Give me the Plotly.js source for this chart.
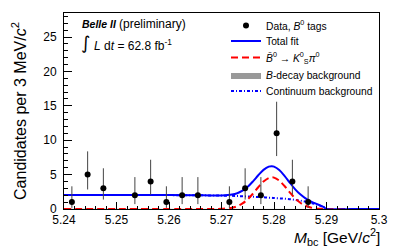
<!DOCTYPE html>
<html>
<head>
<meta charset="utf-8">
<script src="https://cdn.plot.ly/plotly-3.0.1.min.js"></script>
<style>html,body{margin:0;padding:0;background:#fff}#chart{width:399px;height:249px}</style>
</head>
<body>
<div id="chart"></div>
<script>
// Data points (bins with zero entries not drawn)
const binCenters = [5.2415, 5.2445, 5.2475, 5.2535, 5.2565, 5.2595, 5.2625, 5.2655, 5.2715, 5.2745, 5.2775, 5.2805, 5.2835, 5.2865];
const counts     = [1, 5, 3, 2, 4, 1, 2, 2, 1, 3, 2, 11, 4, 1];
const errHigh    = [2.3, 3.38, 2.92, 2.64, 3.16, 2.3, 2.64, 2.64, 2.3, 2.92, 2.64, 4.6, 3.16, 2.3];
const errLow     = [0.83, 2.16, 1.63, 1.29, 1.91, 0.83, 1.29, 1.29, 0.83, 1.63, 1.29, 3.3, 1.91, 0.83];

// Fit curves sampled in Mbc
const curveX    = [5.24, 5.25, 5.26, 5.265, 5.268, 5.27, 5.272, 5.273, 5.274, 5.275, 5.276, 5.277, 5.278, 5.279, 5.2796, 5.28, 5.281, 5.282, 5.283, 5.284, 5.285, 5.286, 5.287, 5.288, 5.289, 5.2895, 5.29, 5.295, 5.30];
const totalFit  = [2.05, 2.04, 2.02, 2.0, 1.97, 1.98, 2.10, 2.29, 2.66, 3.24, 4.02, 4.90, 5.69, 6.16, 6.22, 6.16, 5.67, 4.83, 3.84, 2.90, 2.13, 1.55, 1.12, 0.77, 0.45, 0.26, 0, 0, 0];
const signal    = [0, 0, 0, 0, 0.003, 0.027, 0.19, 0.41, 0.81, 1.42, 2.24, 3.16, 3.99, 4.51, 4.6, 4.56, 4.12, 3.34, 2.42, 1.57, 0.91, 0.47, 0.22, 0.09, 0.03, 0.01, 0, 0, 0];
const bDecayBkg = [0.02, 0.02, 0.02, 0.02, 0.02, 0.02, 0.02, 0.02, 0.02, 0.02, 0.02, 0.02, 0.02, 0.02, 0.02, 0.02, 0.02, 0.02, 0.02, 0.02, 0.02, 0.02, 0.02, 0.01, 0.01, 0, 0, 0, 0];
const continuum = [2.05, 2.04, 2.02, 2.0, 1.97, 1.95, 1.91, 1.88, 1.85, 1.82, 1.78, 1.74, 1.70, 1.65, 1.62, 1.60, 1.55, 1.49, 1.42, 1.33, 1.22, 1.08, 0.90, 0.68, 0.42, 0.25, 0, 0, 0];

const xTickVals = [5.24, 5.25, 5.26, 5.27, 5.28, 5.29, 5.3];
const xTickText = ['5.24', '5.25', '5.26', '5.27', '5.28', '5.29', '5.3'];
const yTickVals = [0, 5, 10, 15, 20, 25];

const FONT = 'Liberation Sans, Arial, Helvetica, sans-serif';

const traces = [
  {
    x: curveX, y: bDecayBkg, type: 'scatter', mode: 'lines',
    line: {color: '#999999', width: 0}, fill: 'tozeroy', fillcolor: '#999999',
    name: '<i>B</i>-decay background', legend: 'legend4'
  },
  {
    x: curveX, y: continuum, type: 'scatter', mode: 'lines', line: {shape: 'spline',
    color: '#0000ff', width: 2, dash: '3px,2px,1px,2px'},
    name: 'Continuum background', legend: 'legend5'
  },
  {
    x: curveX, y: signal, type: 'scatter', mode: 'lines', line: {shape: 'spline',
    color: '#ff0000', width: 2, dash: '7px,4px'},
    name: '<i>B\u0304</i><sup>0</sup> \u2192 <i>K</i><sup>0</sup><sub>S</sub><i>\u03c0</i><sup>0</sup>', legend: 'legend3'
  },
  {
    x: curveX, y: totalFit, type: 'scatter', mode: 'lines', line: {shape: 'spline',
    color: '#0000ff', width: 2},
    name: 'Total fit', legend: 'legend2'
  },
  {
    x: binCenters, y: counts, type: 'scatter', mode: 'markers',
    marker: {color: '#000000', size: 6},
    error_y: {type: 'data', symmetric: false, array: errHigh, arrayminus: errLow,
              color: '#444444', thickness: 1, width: 0},
    name: 'Data, <i>B</i><sup>0</sup> tags', legend: 'legend'
  }
];

function legendAt(yc) {
  return {
    x: (226 - 64) / 315, y: (209 - yc) / 197, xanchor: 'left', yanchor: 'middle',
    bgcolor: 'rgba(0,0,0,0)', borderwidth: 0,
    font: {family: FONT, size: 10.3, color: '#000'}, itemwidth: 30
  };
}

const layout = {
  width: 399, height: 249,
  margin: {l: 64, r: 20, t: 12, b: 40},
  paper_bgcolor: '#ffffff', plot_bgcolor: '#ffffff',
  font: {family: FONT, size: 12, color: '#000'},
  showlegend: true,
  legend: legendAt(25.5),
  legend2: legendAt(41),
  legend3: legendAt(57.5),
  legend4: legendAt(75),
  legend5: legendAt(91),
  xaxis: {
    range: [5.24, 5.30], tickmode: 'array', tickvals: xTickVals, ticktext: xTickText,
    ticks: 'inside', ticklen: 7, tickcolor: '#000', showgrid: false, zeroline: false,
    showline: true, linecolor: '#000', linewidth: 1, mirror: true,
    tickfont: {family: FONT, size: 12},
    minor: {dtick: 0.002, ticks: 'inside', ticklen: 3.5, tickcolor: '#000', showgrid: false}
  },
  yaxis: {
    range: [0, 28.5], tickmode: 'array', tickvals: yTickVals,
    ticks: 'inside', ticklen: 8, tickcolor: '#000', showgrid: false, zeroline: false,
    showline: true, linecolor: '#000', linewidth: 1, mirror: true,
    tickfont: {family: FONT, size: 12}, ticklabelstandoff: 4,
    minor: {dtick: 1, ticks: 'inside', ticklen: 4, tickcolor: '#000', showgrid: false},
    title: {text: 'Candidates per 3 MeV/<i>c</i><sup>2</sup>', font: {family: FONT, size: 16}, standoff: 12}
  },
  annotations: [
    {xref: 'paper', yref: 'paper', x: (80 - 64) / 315, y: (209 - 23.5) / 197, xanchor: 'left', yanchor: 'middle',
     text: '<b><i>Belle II</i></b>', showarrow: false, font: {family: FONT, size: 10.5}},
    {xref: 'paper', yref: 'paper', x: (117 - 64) / 315, y: (209 - 23.5) / 197, xanchor: 'left', yanchor: 'middle',
     text: '(preliminary)', showarrow: false, font: {family: FONT, size: 12}},
    {xref: 'paper', yref: 'paper', x: (79 - 64) / 315, y: (209 - 42) / 197, xanchor: 'left', yanchor: 'middle',
     text: '\u222b', showarrow: false, font: {family: 'DejaVu Sans, ' + FONT, size: 18}},
    {xref: 'paper', yref: 'paper', x: (92 - 64) / 315, y: (209 - 44) / 197, xanchor: 'left', yanchor: 'middle',
     text: '<i>L</i> d<i>t</i> = 62.8 fb<sup>-1</sup>', showarrow: false, font: {family: FONT, size: 12}},
    {xref: 'paper', yref: 'paper', x: (382 - 64) / 315, y: (209 - 237.5) / 197, xanchor: 'right', yanchor: 'middle',
     text: '<i>M</i><sub>bc</sub> [GeV/<i>c</i><sup>2</sup>]', showarrow: false, font: {family: FONT, size: 15.5}}
  ]
};

Plotly.newPlot('chart', traces, layout, {staticPlot: true, displayModeBar: false});
</script>
</body>
</html>
